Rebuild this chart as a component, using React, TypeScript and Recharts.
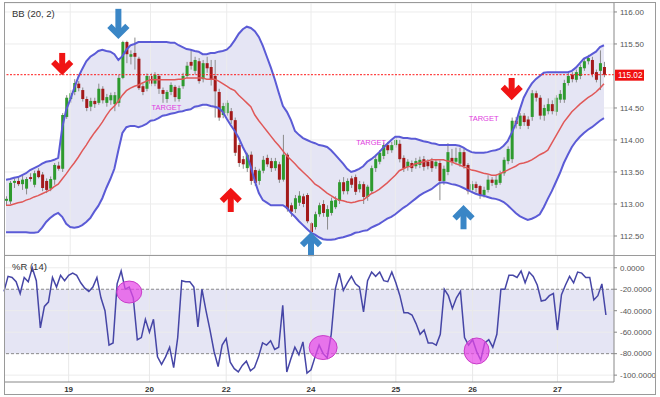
import React from 'react';
import { ComposedChart, Bar, Line, Area, XAxis, YAxis, CartesianGrid, ReferenceLine, ReferenceDot, ReferenceArea } from 'recharts';

const opens = [113.05,113.04,113.33,113.36,113.31,113.24,113.42,113.30,113.52,113.46,113.36,113.24,113.38,113.60,
113.55,114.36,114.64,114.75,114.88,114.78,114.64,114.52,114.61,114.58,114.80,114.58,114.62,114.56,
114.58,114.97,115.53,115.30,115.36,115.27,114.84,114.80,115.00,114.88,115.00,114.78,114.64,114.75,
114.83,114.64,114.84,115.00,115.22,115.08,115.23,114.95,115.20,115.14,115.00,114.75,114.39,114.42,
114.45,114.31,113.92,113.70,113.56,113.77,113.53,113.36,113.52,113.72,113.67,113.56,113.62,113.38,
113.77,112.98,112.92,113.02,113.12,113.14,112.70,112.64,112.84,113.00,112.80,112.86,112.95,113.05,
113.34,113.20,113.40,113.42,113.23,113.31,113.11,113.20,113.56,113.66,113.75,113.92,113.84,113.92,
113.94,113.72,113.58,113.64,113.59,113.61,113.70,113.66,113.67,113.59,113.64,113.36,113.50,113.72,
113.66,113.63,113.81,113.61,113.22,113.31,113.28,113.14,113.22,113.38,113.30,113.33,113.48,113.67,
113.70,114.30,114.22,114.38,114.32,114.36,114.73,114.66,114.38,114.45,114.56,114.44,114.63,114.63,
114.89,115.02,114.94,115.00,115.12,115.23,115.25,115.06,115.08,115.14];
const highs = [113.12,113.36,113.40,113.42,113.45,113.42,113.48,113.52,113.56,113.50,113.40,113.43,113.64,113.66,
114.42,114.70,114.78,114.95,114.92,114.82,114.68,114.66,114.66,114.88,114.84,114.72,114.74,114.75,
115.02,115.55,115.55,115.40,115.60,115.30,114.88,115.04,115.05,115.06,115.03,114.82,114.78,114.90,
114.86,114.85,115.05,115.22,115.40,115.30,115.28,115.25,115.30,115.25,115.25,114.80,114.58,114.62,
114.50,114.35,113.96,113.75,113.80,113.82,113.58,113.55,113.75,113.77,113.72,113.72,113.66,114.08,
113.80,113.02,113.14,113.20,113.16,113.17,112.72,112.88,113.02,113.06,112.98,113.10,113.12,113.38,
113.42,113.40,113.44,113.46,113.36,113.35,113.30,113.60,113.75,113.84,113.96,113.97,113.97,114.05,
114.00,113.76,113.70,113.68,113.72,113.74,113.75,113.70,113.72,113.70,113.68,113.60,113.95,113.86,
113.88,113.88,113.86,113.64,113.36,113.35,113.30,113.27,113.45,113.42,113.45,113.52,113.73,113.90,
114.35,114.36,114.42,114.42,114.37,114.78,114.77,114.70,114.55,114.65,114.62,114.70,114.78,114.94,
115.05,115.06,115.10,115.18,115.28,115.33,115.30,115.10,115.40,115.22];
const lows = [112.98,113.00,113.25,113.28,113.22,113.15,113.35,113.26,113.40,113.20,113.17,113.20,113.30,113.52,
113.50,114.33,114.58,114.70,114.76,114.60,114.45,114.45,114.50,114.55,114.57,114.52,114.55,114.45,
114.52,114.95,115.20,115.18,115.10,114.78,114.70,114.76,114.84,114.84,114.72,114.58,114.58,114.70,
114.60,114.60,114.80,114.97,115.10,115.02,114.88,114.90,115.05,114.85,114.35,114.30,114.34,114.38,
114.25,113.75,113.58,113.55,113.50,113.30,113.28,113.30,113.48,113.58,113.50,113.52,113.33,113.35,
112.88,112.80,112.86,112.97,112.95,112.70,112.52,112.60,112.80,112.80,112.60,112.82,112.92,113.00,
113.15,113.15,113.25,113.14,113.18,113.00,113.05,113.16,113.50,113.62,113.70,113.78,113.80,113.88,
113.65,113.50,113.52,113.50,113.55,113.56,113.52,113.54,113.50,113.55,113.06,113.30,113.45,113.60,
113.62,113.58,113.55,113.15,113.17,113.18,113.08,113.10,113.18,113.28,113.25,113.30,113.44,113.62,
113.64,114.18,114.17,114.22,114.17,114.30,114.60,114.32,114.30,114.40,114.40,114.38,114.58,114.58,
114.85,114.90,114.90,114.95,115.08,115.18,114.98,114.90,114.78,114.98];
const closes = [113.08,113.33,113.36,113.31,113.38,113.39,113.39,113.48,113.42,113.25,113.22,113.39,113.61,113.55,
114.39,114.66,114.73,114.89,114.81,114.64,114.50,114.61,114.56,114.80,114.62,114.67,114.70,114.70,
114.97,115.53,115.34,115.34,115.30,114.81,114.75,115.00,114.88,115.02,114.80,114.72,114.75,114.86,
114.67,114.81,115.00,115.16,115.16,115.25,114.92,115.20,115.12,114.95,114.76,114.35,114.53,114.58,
114.31,113.80,113.64,113.62,113.77,113.36,113.33,113.52,113.69,113.62,113.56,113.67,113.38,113.77,
112.92,112.88,113.09,113.13,113.00,112.73,112.56,112.84,112.98,112.86,112.92,113.05,113.06,113.34,
113.20,113.36,113.30,113.19,113.31,113.11,113.27,113.56,113.70,113.80,113.92,113.84,113.92,114.00,
113.70,113.56,113.66,113.56,113.67,113.69,113.58,113.59,113.56,113.66,113.36,113.55,113.81,113.66,
113.72,113.81,113.59,113.20,113.31,113.25,113.14,113.22,113.38,113.33,113.38,113.48,113.69,113.86,
114.30,114.25,114.38,114.28,114.22,114.73,114.66,114.38,114.50,114.56,114.45,114.66,114.72,114.89,
115.00,114.95,115.06,115.14,115.23,115.28,115.03,114.94,115.20,115.02];
const upper = [113.38,113.39,113.41,113.42,113.45,113.48,113.53,113.56,113.59,113.63,113.66,113.67,113.69,113.72,
114.19,114.47,114.63,114.81,114.98,115.11,115.23,115.30,115.34,115.39,115.41,115.39,115.38,115.34,
115.25,115.31,115.41,115.48,115.50,115.53,115.53,115.53,115.53,115.53,115.53,115.53,115.53,115.52,
115.52,115.48,115.45,115.42,115.41,115.39,115.38,115.34,115.34,115.36,115.36,115.38,115.39,115.41,
115.47,115.56,115.66,115.73,115.77,115.75,115.70,115.61,115.47,115.30,115.13,114.94,114.73,114.53,
114.44,114.31,114.14,114.08,114.03,114.00,113.97,113.95,113.92,113.91,113.89,113.84,113.77,113.70,
113.63,113.55,113.50,113.52,113.55,113.59,113.66,113.70,113.75,113.81,113.88,113.94,114.00,114.05,
114.05,114.03,114.03,114.02,114.02,114.00,113.98,113.97,113.95,113.94,113.92,113.92,113.92,113.92,
113.92,113.91,113.88,113.84,113.81,113.80,113.80,113.80,113.81,113.83,113.84,113.86,113.91,113.98,
114.11,114.25,114.47,114.66,114.78,114.88,114.95,115.00,115.05,115.06,115.06,115.06,115.06,115.06,
115.06,115.08,115.13,115.20,115.27,115.30,115.34,115.38,115.45,115.48];
const middle = [112.98,112.98,113.00,113.02,113.03,113.06,113.08,113.11,113.13,113.16,113.19,113.22,113.27,113.31,
113.39,113.47,113.56,113.64,113.73,113.83,113.92,114.02,114.11,114.19,114.28,114.38,114.47,114.53,
114.61,114.70,114.77,114.81,114.84,114.86,114.89,114.92,114.94,114.94,114.94,114.94,114.94,114.94,
114.94,114.95,114.95,114.97,114.97,114.97,114.97,114.97,114.95,114.95,114.95,114.92,114.88,114.84,
114.80,114.77,114.70,114.64,114.58,114.52,114.39,114.30,114.22,114.14,114.06,113.98,113.91,113.83,
113.75,113.69,113.63,113.56,113.50,113.44,113.38,113.31,113.27,113.22,113.17,113.13,113.09,113.06,
113.05,113.03,113.02,113.03,113.05,113.06,113.11,113.16,113.19,113.23,113.28,113.33,113.39,113.45,
113.52,113.55,113.58,113.59,113.63,113.64,113.66,113.67,113.69,113.69,113.69,113.69,113.67,113.66,
113.63,113.61,113.58,113.56,113.53,113.52,113.50,113.48,113.47,113.45,113.45,113.47,113.50,113.53,
113.56,113.59,113.63,113.64,113.66,113.69,113.73,113.77,113.80,113.84,113.95,114.06,114.17,114.28,
114.36,114.44,114.50,114.56,114.61,114.66,114.70,114.75,114.81,114.88];
const lower = [112.56,112.56,112.56,112.56,112.56,112.56,112.55,112.55,112.56,112.63,112.72,112.78,112.83,112.86,
112.80,112.69,112.64,112.63,112.64,112.67,112.72,112.78,112.88,112.97,113.09,113.25,113.39,113.55,
113.84,114.11,114.20,114.22,114.22,114.20,114.22,114.25,114.30,114.31,114.34,114.38,114.39,114.41,
114.42,114.44,114.45,114.47,114.48,114.52,114.53,114.55,114.55,114.53,114.52,114.50,114.44,114.33,
114.23,114.14,114.03,113.89,113.77,113.58,113.36,113.17,113.06,113.02,112.98,112.98,112.98,112.98,
112.94,112.86,112.80,112.73,112.67,112.61,112.55,112.52,112.48,112.45,112.44,112.44,112.45,112.47,
112.48,112.50,112.52,112.55,112.56,112.58,112.59,112.63,112.66,112.69,112.73,112.77,112.80,112.84,
112.89,112.94,112.98,113.03,113.08,113.13,113.17,113.20,113.23,113.28,113.33,113.34,113.33,113.31,
113.30,113.28,113.25,113.22,113.19,113.16,113.14,113.13,113.11,113.09,113.08,113.06,113.03,112.98,
112.92,112.86,112.81,112.78,112.75,112.77,112.80,112.84,112.95,113.08,113.20,113.34,113.48,113.64,
113.77,113.89,113.98,114.05,114.11,114.16,114.20,114.25,114.30,114.34];
const wr = [-22,-8,-9,-13,-24,-9,-13,0,-12,-56,-36,-32,-9,-18,
-7,-12,-7,-5,-7,-14,-19,-22,-18,-9,-28,-40,-72,-70,
-15,-3,-20,-18,-28,-67,-65,-48,-60,-48,-83,-90,-83,-74,
-93,-65,-12,-13,-13,-18,-55,-20,-40,-58,-78,-92,-72,-66,
-88,-94,-97,-91,-87,-96,-93,-83,-70,-72,-68,-76,-74,-35,
-97,-85,-74,-81,-69,-98,-95,-83,-72,-80,-84,-62,-20,-5,
-21,-14,-8,-15,-18,-41,-12,-4,-8,-4,-12,-13,-4,-14,
-26,-42,-42,-44,-52,-62,-58,-70,-70,-72,-62,-20,-26,-38,
-28,-22,-65,-72,-67,-78,-86,-70,-67,-74,-62,-20,-20,-7,
-7,-9,-3,-14,-4,-8,-16,-31,-30,-26,-24,-58,-25,-16,
-8,-14,-4,-5,-9,-9,-30,-26,-15,-44];

const dayLabels = ['19', '20', '22', '24', '25', '26', '27'];
const dayIndex = [16, 36, 55, 76, 97, 116, 137];
const priceTicks = [112.5, 113, 113.5, 114, 114.5, 115.5, 116];
const wrTicks = [0, -20, -40, -60, -80, -100];
const lastPrice = 115.02;

// annotations: [index, value]
const redDown = [[14, 115.016], [126, 114.625]];
const redUp = [[56, 113.25]];
const blueDown = [[28, 115.58]];
const blueUp = [[76, 112.56], [114, 112.98]];
const targets = [[40, 114.51], [91, 113.97], [119, 114.34]];
const circles = [[31, -22.6, 12.5, 11], [79, -74.3, 14, 12], [117, -77.5, 12.5, 13]];

const N = closes.length;
const data = Array.from({ length: N + 2 }, (_, i) =>
  i < N
    ? { i, o: opens[i], h: highs[i], l: lows[i], c: closes[i], up: upper[i], mid: middle[i], lo: lower[i], wr: wr[i] }
    : { i }
);

const FONT = '"Liberation Sans", Arial, sans-serif';
const GREEN = '#2e9a2e';
const RED = '#a31a1a';

const Candle = (props: any) => {
  const { x, y, width, height, payload } = props;
  if (!payload || payload.h == null || x == null) return <g />;
  const top = Math.min(y, y + height);
  const h = Math.abs(height);
  const range = payload.h - payload.l;
  const py = (v: number) => (range === 0 ? top : top + ((payload.h - v) / range) * h);
  const up = payload.c >= payload.o;
  const yo = py(payload.o);
  const yc = py(payload.c);
  const bTop = Math.min(yo, yc);
  const bH = Math.max(1, Math.abs(yo - yc));
  const cx = x + width / 2;
  return (
    <g>
      <line x1={cx} x2={cx} y1={top} y2={top + h} stroke="#8a8a8a" strokeWidth={1} />
      <rect x={x} y={bTop} width={width} height={bH} fill={up ? GREEN : RED} />
    </g>
  );
};

const Arrow = ({ cx, cy, color, dir, len }: any) => (
  <g transform={`translate(${cx},${cy}) scale(1,${dir})`}>
    <rect x={-3} y={-len} width={6} height={len - 6} fill={color} />
    <polyline points="-9,-13 0,-4 9,-13" fill="none" stroke={color} strokeWidth={6} strokeLinejoin="miter" />
  </g>
);

const PriceTag = (props: any) => {
  const vb = props.viewBox;
  if (!vb) return <g />;
  const x = vb.x + vb.width + 1;
  const y = vb.y;
  return (
    <g>
      <rect x={x} y={y - 5} width={29} height={11} fill="#f01010" />
      <text x={x + 3} y={y + 3.5} fontSize={8.2} fill="#fff" fontFamily={FONT}>{lastPrice.toFixed(2)}</text>
    </g>
  );
};

const DayTick = (props: any) => {
  const { x, y, payload } = props;
  const k = dayIndex.indexOf(payload.value);
  if (k < 0) return <g />;
  return (
    <text x={x} y={y + 2} textAnchor="middle" fontSize={8} fontWeight="bold" fill="#333" fontFamily={FONT}>
      {dayLabels[k]}
    </text>
  );
};

const tickStyle = { fontSize: 8, fill: '#555', fontFamily: FONT };

export default function App() {
  return (
    <div style={{ position: 'absolute', left: 0, top: 0, width: 660, height: 397, background: '#fff', overflow: 'hidden' }}>
      <div style={{ position: 'absolute', left: 0, top: 0 }}>
        <ComposedChart width={660} height={258} data={data} margin={{ top: 3, right: 0, bottom: 3, left: 4 }}>
          <CartesianGrid vertical={false} stroke="#ececec" />
          <XAxis dataKey="i" type="category" hide />
          <YAxis
            orientation="right"
            width={46}
            domain={[112.203, 116.14]}
            allowDataOverflow
            ticks={priceTicks}
            interval={0}
            tickFormatter={(v: number) => v.toFixed(2)}
            tick={tickStyle}
            tickSize={3}
            tickMargin={3}
            axisLine={{ stroke: '#888' }}
            tickLine={{ stroke: '#888' }}
          />
          {dayIndex.map((d) => (
            <ReferenceLine key={'v' + d} x={d} stroke="#ececec" />
          ))}
          <Area
            dataKey={(d: any) => (d.up == null ? null : [d.lo, d.up])}
            fill="#e5e5f4"
            fillOpacity={1}
            stroke="none"
            isAnimationActive={false}
          />
          <Line dataKey="up" stroke="#5b5bd6" strokeWidth={2} dot={false} isAnimationActive={false} />
          <Line dataKey="lo" stroke="#5b5bd6" strokeWidth={2} dot={false} isAnimationActive={false} />
          <Line dataKey="mid" stroke="#e05858" strokeWidth={1.5} dot={false} isAnimationActive={false} />
          <ReferenceLine y={lastPrice} stroke="#ff1a1a" strokeWidth={1} strokeDasharray="2 1.5" label={(p: any) => <PriceTag {...p} />} />
          <Bar
            dataKey={(d: any) => (d.h == null ? null : [d.l, d.h])}
            barSize={3}
            shape={(p: any) => <Candle {...p} />}
            isAnimationActive={false}
          />
          {redDown.map(([i, v]) => (
            <ReferenceDot key={'rd' + i} x={i} y={v} r={0} ifOverflow="visible"
              shape={(p: any) => <Arrow cx={p.cx} cy={p.cy} color="#f01414" dir={1} len={22} />} />
          ))}
          {redUp.map(([i, v]) => (
            <ReferenceDot key={'ru' + i} x={i} y={v} r={0} ifOverflow="visible"
              shape={(p: any) => <Arrow cx={p.cx} cy={p.cy} color="#f01414" dir={-1} len={24} />} />
          ))}
          {blueDown.map(([i, v]) => (
            <ReferenceDot key={'bd' + i} x={i} y={v} r={0} ifOverflow="visible"
              shape={(p: any) => <Arrow cx={p.cx} cy={p.cy} color="#3a86c6" dir={1} len={30} />} />
          ))}
          {blueUp.map(([i, v]) => (
            <ReferenceDot key={'bu' + i} x={i} y={v} r={0} ifOverflow="visible"
              shape={(p: any) => <Arrow cx={p.cx} cy={p.cy} color="#3a86c6" dir={-1} len={24} />} />
          ))}
          {targets.map(([i, v]) => (
            <ReferenceDot key={'t' + i} x={i} y={v} r={0} ifOverflow="visible"
              shape={(p: any) => (
                <text x={p.cx} y={p.cy + 2.8} textAnchor="middle" fontSize={7.5} fill="#e03ce0" fontFamily={FONT}>TARGET</text>
              )} />
          ))}
        </ComposedChart>
      </div>
      <div style={{ position: 'absolute', left: 0, top: 255 }}>
        <ComposedChart width={660} height={139} data={data} margin={{ top: 0, right: 0, bottom: 0, left: 4 }}>
          <XAxis
            dataKey="i"
            type="category"
            height={12}
            interval={0}
            tick={(p: any) => <DayTick {...p} />}
            tickLine={false}
            axisLine={{ stroke: '#888' }}
          />
          <YAxis
            orientation="right"
            width={46}
            domain={[-106.4, 11.9]}
            allowDataOverflow
            ticks={wrTicks}
            interval={0}
            tickFormatter={(v: number) => v.toFixed(4)}
            tick={tickStyle}
            tickSize={3}
            tickMargin={3}
            axisLine={{ stroke: '#888' }}
            tickLine={{ stroke: '#888' }}
          />
          <ReferenceArea y1={-80} y2={-20} fill="#e5e5f4" fillOpacity={1} stroke="none" />
          {[0, -40, -60, -100].map((v) => (
            <ReferenceLine key={'h' + v} y={v} stroke="#ececec" />
          ))}
          {dayIndex.map((d) => (
            <ReferenceLine key={'v' + d} x={d} stroke="#e8e8e8" />
          ))}
          {[-20, -80].map((v) => (
            <ReferenceLine key={'d' + v} y={v} stroke="#8a8a8a" strokeDasharray="3 2" />
          ))}
          <Line dataKey="wr" stroke="#4646a6" strokeWidth={1.5} dot={false} isAnimationActive={false} />
          {circles.map(([i, v, rx, ry]) => (
            <ReferenceDot key={'c' + i} x={i} y={v} r={0} ifOverflow="visible"
              shape={(p: any) => (
                <ellipse cx={p.cx} cy={p.cy} rx={rx} ry={ry} fill="rgba(232,70,232,0.72)" stroke="#c83cc8" strokeWidth={1} />
              )} />
          ))}
        </ComposedChart>
      </div>
      <div style={{ position: 'absolute', left: 12, top: 8, fontSize: 9.5, lineHeight: '11px', color: '#333', fontFamily: FONT }}>BB (20, 2)</div>
      <div style={{ position: 'absolute', left: 12, top: 261, fontSize: 9.5, lineHeight: '11px', color: '#333', fontFamily: FONT }}>%R (14)</div>
      <div style={{ position: 'absolute', left: 4, top: 2, width: 652, height: 393, border: '1px solid #9a9a9a', boxSizing: 'border-box', pointerEvents: 'none' }} />
      <div style={{ position: 'absolute', left: 4, top: 255, width: 652, height: 1, background: '#9a9a9a', pointerEvents: 'none' }} />
    </div>
  );
}
